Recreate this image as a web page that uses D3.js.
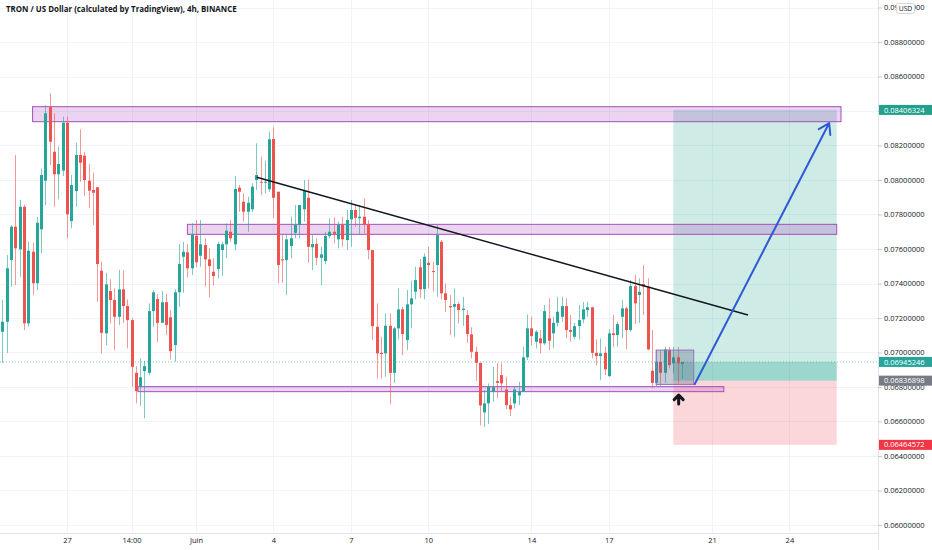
<!DOCTYPE html>
<html><head><meta charset="utf-8">
<script src="https://cdn.jsdelivr.net/npm/d3@7"></script>
<style>html,body{margin:0;padding:0;background:#fff;} svg{display:block;font-family:"Open Sans",sans-serif;}</style>
</head><body><svg id="c" width="932" height="550"></svg>
<script>
// ---- data ----
const firstCandle = Date.UTC(2021, 4, 24, 14); // first 4h bar
const barHours = 4;
const opens = [0.07120,0.07178,0.07536,0.07729,0.07598,0.07845,0.07169,0.07584,0.07401,0.07714,
0.07996,0.08422,0.08164,0.08033,0.08054,0.08332,0.07762,0.07936,0.08145,0.08141,
0.07996,0.07942,0.07958,0.07474,0.07111,0.07356,0.07304,0.07207,0.07366,0.07269,
0.07188,0.06882,0.06805,0.06892,0.06882,0.07240,0.07310,0.07172,0.07292,0.07204,
0.07043,0.07349,0.07555,0.07581,0.07488,0.07677,0.07561,0.07623,0.07540,0.07468,
0.07484,0.07594,0.07627,0.07700,0.07627,0.07955,0.07874,0.07816,0.07830,0.08000,
0.07990,0.07984,0.07946,0.08238,0.07932,0.07540,0.07536,0.07617,0.07694,0.07739,
0.07830,0.07897,0.07610,0.07629,0.07549,0.07530,0.07675,0.07700,0.07656,0.07739,
0.07652,0.07772,0.07826,0.07778,0.07787,0.07743,0.07594,0.07149,0.06998,0.06995,
0.07155,0.06882,0.07140,0.07250,0.07072,0.07279,0.07352,0.07494,0.07368,0.07520,
0.07472,0.07507,0.07642,0.07343,0.07269,0.07265,0.07281,0.07246,0.07217,0.07105,
0.07004,0.06940,0.06653,0.06705,0.06772,0.06834,0.06869,0.06786,0.06695,0.06705,
0.06751,0.06772,0.06972,0.07140,0.07062,0.07082,0.07053,0.07198,0.07111,0.07172,
0.07207,0.07269,0.07130,0.07091,0.07153,0.07192,0.07246,0.07262,0.06998,0.06979,
0.06998,0.06863,0.07111,0.07101,0.07207,0.07256,0.07130,0.07385,0.07333,0.07397,
0.07381,0.06894,0.06824,0.06946,0.06882,0.07014,0.06937,0.06972,0.06933];
const highs = [0.07304,0.07565,0.07739,0.08145,0.07884,0.07855,0.07642,0.07636,0.07787,0.08068,
0.08435,0.08503,0.08387,0.08193,0.08367,0.08367,0.08029,0.08216,0.08294,0.08164,
0.08093,0.08042,0.07958,0.07526,0.07462,0.07424,0.07372,0.07478,0.07478,0.07308,
0.07200,0.06921,0.06966,0.06952,0.07285,0.07362,0.07339,0.07356,0.07339,0.07246,
0.07366,0.07629,0.07642,0.07629,0.07749,0.07768,0.07768,0.07662,0.07604,0.07546,
0.07642,0.07642,0.07749,0.07768,0.08023,0.07971,0.07923,0.07903,0.07981,0.08213,
0.08135,0.08112,0.08280,0.08306,0.07932,0.07681,0.07681,0.07787,0.07855,0.07855,
0.08000,0.08004,0.07681,0.07662,0.07613,0.07700,0.07778,0.07784,0.07758,0.07787,
0.07826,0.07884,0.07855,0.07855,0.07894,0.07768,0.07594,0.07285,0.07091,0.07227,
0.07227,0.07149,0.07372,0.07265,0.07362,0.07416,0.07497,0.07542,0.07575,0.07613,
0.07526,0.07739,0.07652,0.07401,0.07333,0.07372,0.07294,0.07323,0.07246,0.07146,
0.07033,0.06940,0.06782,0.06821,0.06917,0.06937,0.06937,0.06859,0.06743,0.06801,
0.06830,0.07033,0.07221,0.07207,0.07130,0.07130,0.07275,0.07314,0.07207,0.07323,
0.07323,0.07314,0.07217,0.07172,0.07275,0.07294,0.07294,0.07265,0.07076,0.07082,
0.07033,0.07134,0.07217,0.07178,0.07304,0.07265,0.07420,0.07449,0.07430,0.07507,
0.07430,0.07130,0.07014,0.07014,0.07033,0.07033,0.07033,0.07033,0.06946];
const lows = [0.06939,0.06997,0.07381,0.07391,0.07439,0.07130,0.07149,0.07333,0.07362,0.07575,
0.07855,0.08087,0.07845,0.07888,0.08023,0.07662,0.07720,0.07845,0.07990,0.07907,
0.07836,0.07739,0.07294,0.06995,0.07043,0.07169,0.07014,0.07159,0.07171,0.07024,
0.06801,0.06705,0.06689,0.06618,0.06869,0.07149,0.07062,0.07172,0.07101,0.06960,
0.06946,0.07265,0.07346,0.07436,0.07449,0.07494,0.07497,0.07381,0.07320,0.07391,
0.07430,0.07443,0.07546,0.07642,0.07594,0.07816,0.07758,0.07700,0.07814,0.07942,
0.07913,0.07923,0.07932,0.07778,0.07401,0.07404,0.07333,0.07546,0.07662,0.07662,
0.07758,0.07520,0.07478,0.07507,0.07391,0.07511,0.07662,0.07633,0.07604,0.07613,
0.07594,0.07613,0.07729,0.07681,0.07691,0.07540,0.07072,0.06850,0.06850,0.06859,
0.06699,0.06824,0.07076,0.06985,0.07014,0.07140,0.07308,0.07317,0.07308,0.07372,
0.07352,0.07323,0.07308,0.07236,0.07101,0.07091,0.07169,0.07155,0.07056,0.06966,
0.06836,0.06579,0.06569,0.06585,0.06714,0.06734,0.06772,0.06670,0.06631,0.06676,
0.06695,0.06772,0.06956,0.07043,0.07024,0.06995,0.07043,0.07014,0.07024,0.07149,
0.07178,0.07082,0.07062,0.07076,0.07076,0.07169,0.07207,0.06966,0.06927,0.06840,
0.06869,0.06859,0.07033,0.07033,0.07082,0.07018,0.07120,0.07165,0.07172,0.07217,
0.07014,0.06792,0.06805,0.06805,0.06824,0.06908,0.06879,0.06821,0.06850];
const closes = [0.07178,0.07488,0.07729,0.07604,0.07845,0.07169,0.07590,0.07401,0.07752,0.08029,
0.08387,0.08222,0.08033,0.08093,0.08332,0.07801,0.07971,0.08145,0.08100,0.08000,
0.07938,0.07926,0.07513,0.07114,0.07395,0.07304,0.07207,0.07366,0.07269,0.07188,
0.06917,0.06776,0.06856,0.06921,0.07240,0.07349,0.07172,0.07291,0.07159,0.07008,
0.07349,0.07513,0.07584,0.07488,0.07687,0.07523,0.07627,0.07540,0.07501,0.07443,
0.07629,0.07627,0.07706,0.07662,0.07948,0.07932,0.07816,0.07868,0.07961,0.08029,
0.07984,0.07990,0.08236,0.07897,0.07507,0.07534,0.07656,0.07662,0.07739,0.07855,
0.07936,0.07613,0.07629,0.07549,0.07569,0.07675,0.07700,0.07687,0.07739,0.07656,
0.07768,0.07826,0.07781,0.07787,0.07743,0.07594,0.07153,0.06995,0.06991,0.07155,
0.06882,0.07140,0.07250,0.07107,0.07279,0.07314,0.07420,0.07366,0.07555,0.07507,
0.07471,0.07681,0.07343,0.07304,0.07262,0.07281,0.07246,0.07254,0.07107,0.07004,
0.06940,0.06693,0.06705,0.06801,0.06798,0.06824,0.06821,0.06695,0.06670,0.06786,
0.06772,0.06972,0.07140,0.07095,0.07120,0.07053,0.07240,0.07068,0.07172,0.07236,
0.07269,0.07130,0.07120,0.07153,0.07188,0.07250,0.07262,0.06998,0.06979,0.06995,
0.06902,0.07111,0.07101,0.07165,0.07256,0.07130,0.07385,0.07285,0.07352,0.07381,
0.07018,0.06824,0.06946,0.06882,0.07018,0.06927,0.06972,0.06937,0.06945];

const T = (mo, d, h, mi = 0) => new Date(Date.UTC(2021, mo - 1, d, h, mi));
const priceTicks = [0.060,0.062,0.064,0.066,0.068,0.070,0.072,0.074,0.076,0.078,0.080,0.082,0.084,0.086,0.088,0.090];
const timeTicks = [T(5,27,2), T(5,29,14), T(6,1,2), T(6,4,2), T(6,7,2), T(6,10,2), T(6,14,2), T(6,17,2), T(6,21,2), T(6,24,2)];
const timeLabels = ["27", "14:00", "Juin", "4", "7", "10", "14", "17", "21", "24"];

// drawings (time / price anchors)
const zones = [
  {t0: T(5,25,18), t1: T(6,26,2), p0: 0.08425, p1: 0.08338},
  {t0: T(5,31,18), t1: T(6,25,22), p0: 0.07743, p1: 0.07685},
  {t0: T(5,29,20), t1: T(6,21,13), p0: 0.06802, p1: 0.06773}
];
const rangeBox = {t0: T(6,18,22), t1: T(6,20,9), p0: 0.07014, p1: 0.06815};
const longPos = {t0: T(6,19,14), t1: T(6,25,22), entry: 0.06836898, target: 0.08406324, stop: 0.06464572};
const lastPrice = 0.06945246;
const trendLine = [{t: T(6,3,10,30), p: 0.080157}, {t: T(6,22,11,30), p: 0.072174}];
const projection = [{t: T(6,20,10), p: 0.06817}, {t: T(6,25,15), p: 0.08330}];
const marker = {t: T(6,19,19), p: 0.06730};
const priceTags = [
  {p: longPos.target, fill: "#22a08c"},
  {p: lastPrice, fill: "#26a69a"},
  {p: longPos.entry, fill: "#787b86"},
  {p: longPos.stop, fill: "#f23645"}
];

// ---- chart ----
const W = 932, H = 550, axisX = 878, axisY = 533;
const svg = d3.select("#c");
const x = d3.scaleUtc().domain([T(5,27,2), T(6,24,2)]).range([67, 789.4]);
const y = d3.scaleLinear().domain([0.060, 0.088]).range([525, 42]);
const candles = opens.map((o, i) => ({t: new Date(firstCandle + i * barHours * 3600e3), o, h: highs[i], l: lows[i], c: closes[i]}));

svg.append("defs").append("clipPath").attr("id", "plot").append("rect").attr("x", 0).attr("y", 0).attr("width", axisX).attr("height", axisY);

// grid
const grid = svg.append("g").attr("stroke", "#f0f3fa").attr("stroke-width", 1);
grid.selectAll("line.h").data(priceTicks).join("line").attr("class", "h")
  .attr("x1", 0).attr("x2", axisX).attr("y1", d => Math.round(y(d)) + 0.5).attr("y2", d => Math.round(y(d)) + 0.5);
grid.selectAll("line.v").data(timeTicks).join("line").attr("class", "v")
  .attr("y1", 0).attr("y2", axisY).attr("x1", d => Math.round(x(d)) + 0.5).attr("x2", d => Math.round(x(d)) + 0.5);

const plot = svg.append("g").attr("clip-path", "url(#plot)");

// long position tool
plot.append("rect").attr("x", x(longPos.t0)).attr("width", x(longPos.t1) - x(longPos.t0))
  .attr("y", y(longPos.target)).attr("height", y(longPos.entry) - y(longPos.target)).attr("fill", "rgba(8,153,129,0.2)");
plot.append("rect").attr("x", x(longPos.t0)).attr("width", x(longPos.t1) - x(longPos.t0))
  .attr("y", y(longPos.entry)).attr("height", y(longPos.stop) - y(longPos.entry)).attr("fill", "rgba(242,54,69,0.2)");
plot.append("rect").attr("x", x(longPos.t0)).attr("width", x(longPos.t1) - x(longPos.t0))
  .attr("y", y(lastPrice)).attr("height", y(longPos.entry) - y(lastPrice)).attr("fill", "rgba(8,153,129,0.25)");

// zones
plot.selectAll("rect.zone").data(zones).join("rect").attr("class", "zone")
  .attr("x", d => x(d.t0)).attr("width", d => x(d.t1) - x(d.t0))
  .attr("y", d => y(d.p0)).attr("height", d => y(d.p1) - y(d.p0))
  .attr("fill", "rgba(156,39,176,0.2)").attr("stroke", "#a64fbd").attr("stroke-width", 1);

// last price dotted line
plot.append("line").attr("x1", 0).attr("x2", axisX).attr("y1", y(lastPrice)).attr("y2", y(lastPrice))
  .attr("stroke", "#26a69a").attr("stroke-opacity", 0.6).attr("stroke-dasharray", "1,2");

// candles
const up = "#26a69a", dn = "#ef5350";
const cg = plot.append("g");
cg.selectAll("line").data(candles).join("line")
  .attr("x1", d => Math.round(x(d.t)) + 0.5).attr("x2", d => Math.round(x(d.t)) + 0.5)
  .attr("y1", d => y(d.h)).attr("y2", d => y(d.l))
  .attr("stroke", d => d.c >= d.o ? up : dn).attr("stroke-opacity", 0.6);
cg.selectAll("rect").data(candles).join("rect")
  .attr("x", d => Math.round(x(d.t)) - 1).attr("width", 3)
  .attr("y", d => y(Math.max(d.o, d.c))).attr("height", d => Math.max(1, Math.abs(y(d.o) - y(d.c))))
  .attr("fill", d => d.c >= d.o ? up : dn);

// range box over last bars
plot.append("rect").attr("x", x(rangeBox.t0)).attr("width", x(rangeBox.t1) - x(rangeBox.t0))
  .attr("y", y(rangeBox.p0)).attr("height", y(rangeBox.p1) - y(rangeBox.p0))
  .attr("fill", "rgba(95,105,135,0.35)").attr("stroke", "#9270c4").attr("stroke-width", 1);

// trend line
plot.append("line").attr("x1", x(trendLine[0].t)).attr("y1", y(trendLine[0].p))
  .attr("x2", x(trendLine[1].t)).attr("y2", y(trendLine[1].p))
  .attr("stroke", "#131722").attr("stroke-width", 1.5);

// projection arrow
const ax0 = x(projection[0].t), ay0 = y(projection[0].p), ax1 = x(projection[1].t), ay1 = y(projection[1].p);
const ang = Math.atan2(ay1 - ay0, ax1 - ax0);
const wing = 12, spread = Math.PI / 5.5;
plot.append("path")
  .attr("d", `M${ax0},${ay0}L${ax1},${ay1}M${ax1 - wing * Math.cos(ang - spread)},${ay1 - wing * Math.sin(ang - spread)}L${ax1},${ay1}L${ax1 - wing * Math.cos(ang + spread)},${ay1 - wing * Math.sin(ang + spread)}`)
  .attr("fill", "none").attr("stroke", "#2f5bd6").attr("stroke-width", 2).attr("stroke-linecap", "round").attr("stroke-linejoin", "round");

// marker arrow
const mx = x(marker.t), my = y(marker.p);
plot.append("path")
  .attr("d", `M${mx},${my + 5}L${mx},${my - 3.5}M${mx - 4.5},${my + 0.5}L${mx},${my - 4}L${mx + 4.5},${my + 0.5}`)
  .attr("fill", "none").attr("stroke", "#131722").attr("stroke-width", 3).attr("stroke-linecap", "round").attr("stroke-linejoin", "round");

// axes lines
svg.append("line").attr("x1", axisX + 0.5).attr("x2", axisX + 0.5).attr("y1", 0).attr("y2", H).attr("stroke", "#e0e3eb");
svg.append("line").attr("x1", 0).attr("x2", axisX).attr("y1", axisY + 0.5).attr("y2", axisY + 0.5).attr("stroke", "#e0e3eb");

// price axis
const yAxis = svg.append("g").attr("transform", `translate(${axisX},0)`)
  .call(d3.axisRight(y).tickValues(priceTicks).tickFormat(d3.format(".8f")).tickSize(4).tickPadding(2));
yAxis.select(".domain").remove();
yAxis.selectAll(".tick line").attr("stroke", "#c8cbd3");
yAxis.selectAll(".tick text").attr("fill", "#131722").attr("font-size", 7.5).attr("font-family", "'Open Sans', sans-serif");

// time axis
const xAxis = svg.append("g").attr("transform", `translate(0,${axisY})`)
  .call(d3.axisBottom(x).tickValues(timeTicks).tickFormat((d, i) => timeLabels[i]).tickSize(0).tickPadding(5));
xAxis.select(".domain").remove();
xAxis.selectAll(".tick text").attr("fill", "#131722").attr("font-size", 7.5).attr("font-family", "'Open Sans', sans-serif");

// price tags
const tags = svg.append("g").selectAll("g").data(priceTags).join("g").attr("transform", d => `translate(${axisX + 1},${y(d.p)})`);
tags.append("rect").attr("x", 0).attr("y", -5).attr("width", W - axisX - 1).attr("height", 10).attr("fill", d => d.fill);
tags.append("text").attr("x", 5).attr("dy", "0.35em").attr("fill", "#fff").attr("font-size", 7.5)
  .text(d => d3.format(".8f")(d.p));

// USD badge
svg.append("rect").attr("x", 896.5).attr("y", 3.5).attr("width", 18).attr("height", 10).attr("rx", 2)
  .attr("fill", "#fff").attr("stroke", "#d1d4dc");
svg.append("text").attr("x", 905.5).attr("y", 8.5).attr("dy", "0.35em").attr("text-anchor", "middle")
  .attr("font-size", 6.8).attr("fill", "#131722").text("USD");

// title
svg.append("text").attr("x", 6).attr("y", 9).attr("dy", "0.35em").attr("font-size", 7.9).attr("font-weight", 700)
  .attr("fill", "#131722").text("TRON / US Dollar (calculated by TradingView), 4h, BINANCE");
</script></body></html>
